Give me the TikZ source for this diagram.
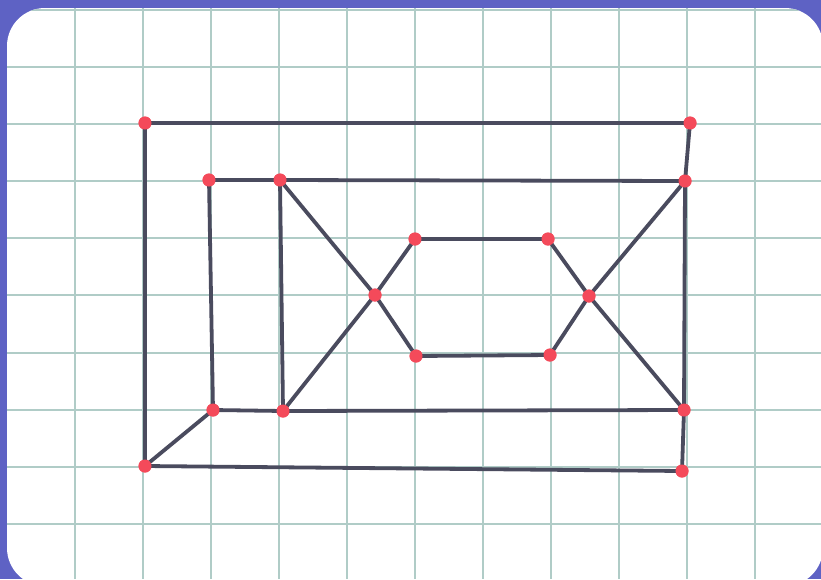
\documentclass[tikz,border=0pt]{standalone}
\definecolor{frame}{RGB}{94,98,196}
\definecolor{gridc}{RGB}{176,204,199}
\definecolor{edgec}{RGB}{74,75,94}
\definecolor{dotc}{RGB}{244,74,90}
\tikzset{
  dot/.style={circle,fill=dotc,draw=none,minimum size=13pt,inner sep=0pt},
  edge/.style={draw=edgec,line width=3.8pt,line cap=round},
  gridline/.style={draw=gridc,line width=1.3pt}
}
\begin{document}
\begin{tikzpicture}[x=1pt,y=-1pt]
\useasboundingbox (0,0) rectangle (821,579);
\fill[frame] (0,0) rectangle (821,579);
\fill[white,rounded corners=38pt] (7,8) rectangle (823,586);
\begin{scope}
\clip[rounded corners=38pt] (7,8) rectangle (823,586);
\foreach \x in {75,143,211,279,347,415,483,551,619,687,755}
  \draw[gridline] (\x,0) -- (\x,579);
\foreach \y in {10,67,124,181,238,295,353,410,467,524}
  \draw[gridline] (0,\y) -- (821,\y);
\end{scope}
% nodes
\node[dot] (A) at (145,123) {};
\node[dot] (B) at (690,123) {};
\node[dot] (C) at (209,180) {};
\node[dot] (D) at (280,180) {};
\node[dot] (E) at (685,181) {};
\node[dot] (F) at (415,239) {};
\node[dot] (G) at (548,239) {};
\node[dot] (H) at (375,295) {};
\node[dot] (I) at (589,296) {};
\node[dot] (J) at (416,356) {};
\node[dot] (K) at (550,355) {};
\node[dot] (L) at (213,410) {};
\node[dot] (M) at (283,411) {};
\node[dot] (N) at (684,410) {};
\node[dot] (O) at (145,466) {};
\node[dot] (P) at (682,471) {};
% edges
\draw[edge] (A.center) -- (B.center);
\draw[edge] (A.center) -- (O.center);
\draw[edge] (B.center) -- (E.center);
\draw[edge] (C.center) -- (D.center);
\draw[edge] (D.center) -- (E.center);
\draw[edge] (C.center) -- (L.center);
\draw[edge] (D.center) -- (M.center);
\draw[edge] (D.center) -- (H.center);
\draw[edge] (H.center) -- (J.center);
\draw[edge] (M.center) -- (H.center);
\draw[edge] (H.center) -- (F.center);
\draw[edge] (F.center) -- (G.center);
\draw[edge] (J.center) -- (K.center);
\draw[edge] (G.center) -- (I.center);
\draw[edge] (I.center) -- (N.center);
\draw[edge] (E.center) -- (I.center);
\draw[edge] (I.center) -- (K.center);
\draw[edge] (L.center) -- (M.center);
\draw[edge] (M.center) -- (N.center);
\draw[edge] (E.center) -- (N.center);
\draw[edge] (N.center) -- (P.center);
\draw[edge] (O.center) -- (P.center);
\draw[edge] (O.center) -- (L.center);
% dots on top of the edges
\foreach \n in {A,B,C,D,E,F,G,H,I,J,K,L,M,N,O,P}
  \fill[dotc] (\n.center) circle (6.5pt);
\end{tikzpicture}
\end{document}
